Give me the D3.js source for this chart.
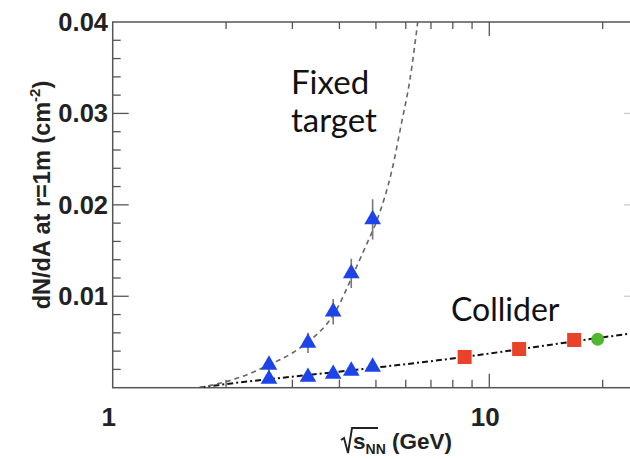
<!DOCTYPE html>
<html>
<head>
<meta charset="utf-8">
<script src="https://cdn.jsdelivr.net/npm/d3@7"></script>
<style>
  body { margin: 0; background: #fff; }
  svg { display: block; }
</style>
</head>
<body>
<div id="chart"></div>
<script>
const width = 630;
const height = 459;

// données
const fixedEnergy = [2.6, 3.3, 3.85, 4.3, 4.9];
const fixedUpper = [0.0025, 0.0049, 0.0083, 0.0125, 0.0184];
const fixedUpperErr = [0.0007, 0.0011, 0.0014, 0.0016, 0.0022];
const fixedLower = [0.00095, 0.00117, 0.0015, 0.00183, 0.00227];

const spsEnergy = [8.6, 12.0, 16.8];
const spsValue = [0.00336, 0.00423, 0.00522];
const rhicEnergy = [19.4];
const rhicValue = [0.0053];

// courbes d'ajustement (points relevés)
const fixedFitX = [1.7, 2.2, 2.6, 3.0, 3.3, 3.9, 4.35, 4.7, 5.05, 5.5, 5.85, 6.15, 6.5];
const fixedFitY = [0, 0.0012, 0.0025, 0.0038, 0.005, 0.0083, 0.0124, 0.0155, 0.0185, 0.0236, 0.029, 0.0336, 0.041];
const colliderFitX = [1.7, 2, 3, 5, 8, 12, 17, 24.5];
const colliderFitY = [0, 0.0004, 0.0012, 0.0022, 0.0032, 0.0042, 0.0051, 0.0060];

const yMajorTicks = [0.01, 0.02, 0.03, 0.04];
const xTicks = [1, 2, 3, 4, 5, 6, 7, 8, 9, 10, 20];
const xLabels = [1, 10];

// géométrie
const plotLeft = 112.7, plotTop = 22, plotBottom = 387.7, decade = 376.6;
const xMax = 24.5;
const plotRight = plotLeft + decade * Math.log10(xMax);

const x = d3.scaleLog().domain([1, xMax]).range([plotLeft, plotRight]);
const y = d3.scaleLinear().domain([0, 0.04]).range([plotBottom, plotTop]);

const svg = d3.select("#chart").append("svg")
  .attr("width", width)
  .attr("height", height);

svg.append("defs").append("clipPath").attr("id", "clip")
  .append("rect")
  .attr("x", plotLeft).attr("y", plotTop)
  .attr("width", plotRight - plotLeft).attr("height", plotBottom - plotTop);

const axisColor = "#555";

// cadre
svg.append("rect")
  .attr("x", plotLeft).attr("y", plotTop)
  .attr("width", plotRight - plotLeft).attr("height", plotBottom - plotTop)
  .attr("fill", "none")
  .attr("stroke", axisColor)
  .attr("stroke-width", 1.5);

// ticks x (bas et haut)
const isMajorX = d => d === 1 || d === 10;
const ticksX = svg.append("g").attr("stroke", axisColor).attr("stroke-width", 1.3);
ticksX.selectAll("line.b").data(xTicks.filter(d => d > 1)).join("line")
  .attr("class", "b")
  .attr("x1", d => x(d)).attr("x2", d => x(d))
  .attr("y1", plotBottom).attr("y2", d => plotBottom - (isMajorX(d) ? 14 : 8));
ticksX.selectAll("line.t").data(xTicks.filter(d => d > 1)).join("line")
  .attr("class", "t")
  .attr("x1", d => x(d)).attr("x2", d => x(d))
  .attr("y1", plotTop).attr("y2", d => plotTop + (isMajorX(d) ? 14 : 7));

// ticks y (gauche et droite)
const yMinor = d3.range(1, 20).map(i => i * 0.002);
const ticksY = svg.append("g").attr("stroke", axisColor).attr("stroke-width", 1.3);
ticksY.selectAll("line.l").data(yMinor).join("line")
  .attr("class", "l")
  .attr("x1", plotLeft).attr("x2", (d, i) => plotLeft + ((i + 1) % 5 === 0 ? 16 : 8))
  .attr("y1", d => y(d)).attr("y2", d => y(d));
ticksY.selectAll("line.r").data(yMajorTicks.slice(0, 3)).join("line")
  .attr("class", "r")
  .attr("stroke", "#ccc")
  .attr("x1", plotRight).attr("x2", plotRight - 12)
  .attr("y1", d => y(d)).attr("y2", d => y(d));

// labels des axes
const axisFont = "'Liberation Sans', Arial, sans-serif";
svg.append("g").selectAll("text").data(yMajorTicks).join("text")
  .attr("x", 108)
  .attr("y", d => y(d) + 9)
  .attr("text-anchor", "end")
  .attr("font-family", axisFont)
  .attr("font-weight", "bold")
  .attr("font-size", 25.5)
  .attr("fill", "#222")
  .text(d => d3.format(".2f")(d));

svg.append("g").selectAll("text").data(xLabels).join("text")
  .attr("x", d => x(d) - 4)
  .attr("y", 426)
  .attr("text-anchor", "middle")
  .attr("font-family", axisFont)
  .attr("font-weight", "bold")
  .attr("font-size", 26)
  .attr("fill", "#222")
  .text(d => d);

// titre axe y
const yTitle = svg.append("text")
  .attr("transform", "translate(50,195) rotate(-90)")
  .attr("text-anchor", "middle")
  .attr("font-family", axisFont)
  .attr("font-weight", "bold")
  .attr("font-size", 23.5)
  .attr("fill", "#222");
yTitle.append("tspan").text("dN/dA at r=1m (cm");
yTitle.append("tspan").attr("font-size", 15).attr("dy", -10).text("-2");
yTitle.append("tspan").attr("dy", 10).text(")");

// titre axe x : racine de s_NN (GeV)
const xTitle = svg.append("text")
  .attr("x", 353)
  .attr("y", 449)
  .attr("font-family", axisFont)
  .attr("font-weight", "bold")
  .attr("font-size", 22.5)
  .attr("fill", "#222");
xTitle.append("tspan").text("s");
xTitle.append("tspan").attr("font-size", 14).attr("dy", 5).text("NN");
xTitle.append("tspan").attr("dy", -5).text(" (GeV)");
svg.append("path")
  .attr("d", "M341,440 L344,438 L348,453 L352,428 L378,428")
  .attr("fill", "none")
  .attr("stroke", "#222")
  .attr("stroke-width", 1.9);

// courbes
const plot = svg.append("g").attr("clip-path", "url(#clip)");
const line = d3.line().x(d => x(d[0])).y(d => y(d[1])).curve(d3.curveMonotoneX);

plot.append("path")
  .datum(d3.zip(colliderFitX, colliderFitY))
  .attr("d", line)
  .attr("fill", "none")
  .attr("stroke", "#111")
  .attr("stroke-width", 2)
  .attr("stroke-dasharray", "6,3,2,3");

plot.append("path")
  .datum(d3.zip(fixedFitX, fixedFitY))
  .attr("d", line)
  .attr("fill", "none")
  .attr("stroke", "#666")
  .attr("stroke-width", 1.6)
  .attr("stroke-dasharray", "5,4");

// barres d'erreur
plot.append("g").selectAll("line").data(d3.zip(fixedEnergy, fixedUpper, fixedUpperErr)).join("line")
  .attr("x1", d => x(d[0])).attr("x2", d => x(d[0]))
  .attr("y1", d => y(d[1] - d[2])).attr("y2", d => y(d[1] + d[2]))
  .attr("stroke", "#777")
  .attr("stroke-width", 1.6);

// marqueurs
const blue = "#1d44e8";
const tri = d3.symbol().type(d3.symbolTriangle).size(120);
const markers = svg.append("g");
markers.selectAll("path.lo").data(d3.zip(fixedEnergy, fixedLower)).join("path")
  .attr("class", "lo")
  .attr("d", tri)
  .attr("transform", d => `translate(${x(d[0])},${y(d[1])})`)
  .attr("fill", blue);
markers.selectAll("path.up").data(d3.zip(fixedEnergy, fixedUpper)).join("path")
  .attr("class", "up")
  .attr("d", tri)
  .attr("transform", d => `translate(${x(d[0])},${y(d[1])})`)
  .attr("fill", blue);

markers.selectAll("rect").data(d3.zip(spsEnergy, spsValue)).join("rect")
  .attr("x", d => x(d[0]) - 7)
  .attr("y", d => y(d[1]) - 7)
  .attr("width", 14).attr("height", 14)
  .attr("fill", "#ea4228");

markers.selectAll("circle").data(d3.zip(rhicEnergy, rhicValue)).join("circle")
  .attr("cx", d => x(d[0]))
  .attr("cy", d => y(d[1]))
  .attr("r", 6.5)
  .attr("fill", "#4fb830");

// annotations
const noteFont = "Lato, 'Open Sans', sans-serif";
svg.append("text").attr("x", 291).attr("y", 94)
  .attr("font-family", noteFont).attr("font-size", 33).attr("fill", "#111")
  .text("Fixed");
svg.append("text").attr("x", 291).attr("y", 132)
  .attr("font-family", noteFont).attr("font-size", 33).attr("fill", "#111")
  .text("target");
svg.append("text").attr("x", 451).attr("y", 321)
  .attr("font-family", noteFont).attr("font-size", 32).attr("fill", "#111")
  .text("Collider");
</script>
</body>
</html>
